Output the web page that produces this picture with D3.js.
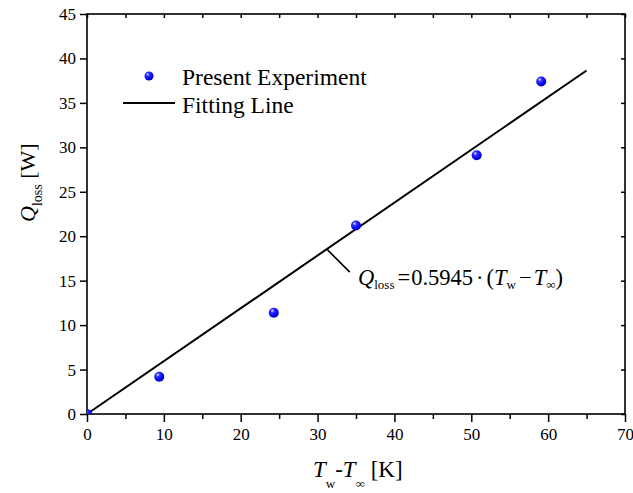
<!DOCTYPE html>
<html>
<head>
<meta charset="utf-8">
<script src="https://cdn.jsdelivr.net/npm/d3@7"></script>
<style>
  body { margin: 0; background: #fff; }
  svg { display: block; font-family: "Liberation Serif", "Times New Roman", serif; }
  svg text { font-family: "Liberation Serif", "Times New Roman", serif; }
</style>
</head>
<body>
<svg class="myChart" width="633" height="493"></svg>
<script>
// measured points
const tempDiff = [0, 9.4, 24.3, 35.0, 50.7, 59.1];
const heatLoss = [0, 4.2, 11.4, 21.2, 29.1, 37.4];
// fitting line Q = 0.5945 (Tw - Tinf)
const fitSlope = 0.5945;
const fitRange = [0, 65];
const xMajor = [0, 10, 20, 30, 40, 50, 60, 70];
const xMinor = [5, 15, 25, 35, 45, 55, 65];
const yMajor = [0, 5, 10, 15, 20, 25, 30, 35, 40, 45];
const legendLabels = ["Present Experiment", "Fitting Line"];

const width = 633, height = 493;
const margin = {top: 14, right: 8, bottom: 79, left: 87};
const innerW = width - margin.left - margin.right;
const innerH = height - margin.top - margin.bottom;

const svg = d3.select(".myChart");

const x = d3.scaleLinear().domain([0, 70]).range([0, innerW]);
const y = d3.scaleLinear().domain([0, 45]).range([innerH, 0]);

const defs = svg.append("defs");
const grad = defs.append("radialGradient")
    .attr("id", "ball")
    .attr("cx", "40%").attr("cy", "35%").attr("r", "65%")
    .attr("fx", "35%").attr("fy", "30%");
grad.append("stop").attr("offset", "0%").attr("stop-color", "#e8e8ff");
grad.append("stop").attr("offset", "30%").attr("stop-color", "#3030ff");
grad.append("stop").attr("offset", "80%").attr("stop-color", "#0000ee");
grad.append("stop").attr("offset", "100%").attr("stop-color", "#0000a0");

defs.append("clipPath").attr("id", "plotClip")
  .append("rect").attr("width", innerW).attr("height", innerH);

const g = svg.append("g").attr("transform", `translate(${margin.left},${margin.top})`);

// bottom axis: major + minor ticks outward
g.append("g").attr("transform", `translate(0,${innerH})`)
    .call(d3.axisBottom(x).tickValues(xMajor).tickSize(8).tickPadding(6).tickFormat(d3.format("d")));
g.append("g").attr("transform", `translate(0,${innerH})`)
    .call(d3.axisBottom(x).tickValues(xMinor).tickSize(5).tickFormat(""));

// left axis
g.append("g")
    .call(d3.axisLeft(y).tickValues(yMajor).tickSize(7).tickPadding(4).tickFormat(d3.format("d")));

// top and right: inward ticks
g.append("g")
    .call(d3.axisBottom(x).tickValues(xMajor.concat(xMinor)).tickSize(4).tickFormat(""));
g.append("g").attr("transform", `translate(${innerW},0)`)
    .call(d3.axisLeft(y).tickValues(yMajor).tickSize(4).tickFormat(""));

g.selectAll(".domain").remove();
g.selectAll("g").attr("font-family", null).attr("font-size", null);
g.selectAll(".tick line").attr("stroke", "#000").attr("stroke-width", 1.5);
g.selectAll(".tick text").attr("fill", "#000").style("font-size", "17px");

g.append("rect")
    .attr("width", innerW).attr("height", innerH)
    .attr("fill", "none").attr("stroke", "#000").attr("stroke-width", 1.6);

// fitting line
const line = d3.line().x(d => x(d)).y(d => y(fitSlope * d));
g.append("path")
    .datum(fitRange)
    .attr("d", line)
    .attr("fill", "none").attr("stroke", "#000").attr("stroke-width", 2);

// points
g.append("g").attr("clip-path", "url(#plotClip)")
  .selectAll("circle")
  .data(tempDiff.map((t, i) => [t, heatLoss[i]]))
  .join("circle")
    .attr("cx", d => x(d[0]))
    .attr("cy", d => y(d[1]))
    .attr("r", 5)
    .attr("fill", "url(#ball)");

// annotation leader + equation
const ax = 31.2;
g.append("line")
    .attr("x1", x(ax)).attr("y1", y(fitSlope * ax))
    .attr("x2", x(ax) + 23).attr("y2", y(fitSlope * ax) + 23)
    .attr("stroke", "#000").attr("stroke-width", 1.6);

const eq = svg.append("text")
    .attr("x", 358).attr("y", 285)
    .style("font-size", "22.5px").attr("fill", "#000");
eq.append("tspan").style("font-style", "italic").text("Q");
eq.append("tspan").attr("dy", 4).style("font-size", "13px").text("loss");
eq.append("tspan").attr("dy", -4).attr("dx", 3).text("=");
eq.append("tspan").attr("dx", 1).text("0.5945");
eq.append("tspan").attr("dx", 3).text("·");
eq.append("tspan").attr("dx", 3).text("(");
eq.append("tspan").style("font-style", "italic").text("T");
eq.append("tspan").attr("dy", 4).style("font-size", "13px").text("w");
eq.append("tspan").attr("dy", -4).attr("dx", 3).text("−");
eq.append("tspan").attr("dx", 2).style("font-style", "italic").text("T");
eq.append("tspan").attr("dy", 4).style("font-size", "13px").text("∞");
eq.append("tspan").attr("dy", -4).text(")");

// legend
const legend = svg.append("g");
legend.append("circle")
    .attr("cx", 149).attr("cy", 76).attr("r", 4.5)
    .attr("fill", "url(#ball)");
legend.append("line")
    .attr("x1", 123).attr("x2", 175).attr("y1", 103).attr("y2", 103)
    .attr("stroke", "#000").attr("stroke-width", 2);
legend.selectAll("text")
    .data(legendLabels)
    .join("text")
    .attr("x", 182)
    .attr("y", (d, i) => 85 + i * 28)
    .style("font-size", "23.5px")
    .attr("fill", "#000")
    .text(d => d);

// x axis title
const xt = svg.append("text")
    .attr("x", 313).attr("y", 477)
    .style("font-size", "23px").attr("fill", "#000");
xt.append("tspan").style("font-style", "italic").text("T");
xt.append("tspan").attr("dy", 11).style("font-size", "13px").text("w");
xt.append("tspan").attr("dy", -11).text("-");
xt.append("tspan").style("font-style", "italic").text("T");
xt.append("tspan").attr("dy", 11).style("font-size", "13px").text("∞");
xt.append("tspan").attr("dy", -11).text(" [K]");

// y axis title
const yt = svg.append("text")
    .attr("transform", "translate(35,222) rotate(-90)")
    .style("font-size", "22px").attr("fill", "#000");
yt.append("tspan").style("font-style", "italic").text("Q");
yt.append("tspan").attr("dy", 7).style("font-size", "14px").text("loss");
yt.append("tspan").attr("dy", -7).text(" [W]");
</script>
</body>
</html>
